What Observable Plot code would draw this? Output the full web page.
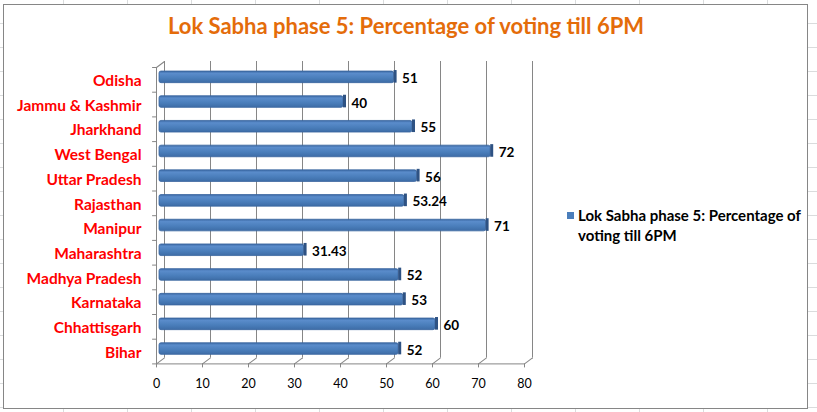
<!DOCTYPE html>
<html>
<head>
<meta charset="utf-8">
<script src="https://cdn.jsdelivr.net/npm/d3@7"></script>
<script src="https://cdn.jsdelivr.net/npm/@observablehq/plot@0.6"></script>
<style>
  html, body { margin: 0; padding: 0; background: #fff; }
  #wrap {
    position: relative; width: 817px; height: 412px; overflow: hidden;
    background-color: #fff;
    background-image:
      repeating-linear-gradient(to bottom, transparent 0 23px, #dadcdd 23px 24px, transparent 24px 20px),
      repeating-linear-gradient(to right, transparent 0 63px, #dadcdd 63px 64px);
  }
  #frame {
    position: absolute; left: 3px; top: 4px; width: 805px; height: 405px;
    background: #fff; border: 1px solid #868686; box-sizing: border-box;
  }
  #chart { position: absolute; left: 0; top: 0; }
  #title {
    position: absolute; left: 0; width: 812px; top: 12px; text-align: center;
    font-family: Lato, "Open Sans", sans-serif; font-weight: 700; font-size: 22px;
    color: #E46C0A; white-space: nowrap;
  }
  #legend {
    position: absolute; left: 566px; top: 205px; width: 245px;
    font-family: Lato, "Open Sans", sans-serif; font-weight: 700; font-size: 15px;
    color: #000; line-height: 20px; white-space: nowrap;
  }
  #legend .sw {
    position: absolute; left: 1px; top: 7px; width: 7px; height: 7px; background: #4A7EBB;
  }
  #legend .tx { margin-left: 12px; }
</style>
</head>
<body>
<div id="wrap">
  <div id="frame"></div>
  <div id="chart"></div>
  <div id="title">Lok Sabha phase 5: Percentage of voting till 6PM</div>
  <div id="legend"><div class="sw"></div><div class="tx">Lok Sabha phase 5: Percentage of<br>voting till 6PM</div></div>
</div>
<script>
// ---- data ----
const states = ["Odisha", "Jammu & Kashmir", "Jharkhand", "West Bengal", "Uttar Pradesh",
  "Rajasthan", "Manipur", "Maharashtra", "Madhya Pradesh", "Karnataka", "Chhattisgarh", "Bihar"];
const turnout = [51, 40, 55, 72, 56, 53.24, 71, 31.43, 52, 53, 60, 52];
const xTicks = [0, 10, 20, 30, 40, 50, 60, 70, 80];

const rows = states.map((s, i) => ({state: s, i, v: turnout[i]}));
const boundaries = d3.range(-0.5, 12, 1);

// 3D depth styling (pixels)
const DX = 8, DY = 6;
const depthLen = Math.hypot(DX, DY);
const depthAngle = Math.atan2(DX, DY) * 180 / Math.PI;
const line = {draw(ctx, l) { ctx.moveTo(0, 0); ctx.lineTo(0, -l); }};
const grid = "#868686";
const font = "Lato, 'Open Sans', sans-serif";

const plot = Plot.plot({
  width: 817,
  height: 412,
  marginLeft: 156,
  marginRight: 293,
  marginTop: 67,
  marginBottom: 48.6,
  style: {background: "transparent", fontFamily: font},
  x: {domain: [0, 80], label: null},
  y: {domain: [11.5, -0.5], label: null},
  marks: [
    // back wall gridlines
    Plot.ruleX(xTicks, {x: d => d, y1: 11.5, y2: -0.5, dx: DX, dy: -DY, stroke: grid, strokeWidth: 1}),
    // floor depth lines
    Plot.vector(xTicks, {x: d => d, y: 11.5, length: depthLen, rotate: depthAngle, anchor: "start", shape: line, stroke: grid, strokeWidth: 1}),
    // left wall front edge and top corner
    Plot.ruleX([0], {y1: 11.5, y2: -0.5, stroke: grid, strokeWidth: 1}),
    Plot.vector([-0.5], {x: 0, y: d => d, length: depthLen, rotate: depthAngle, anchor: "start", shape: line, stroke: grid, strokeWidth: 1}),
    // left wall category ticks
    Plot.vector(boundaries, {x: 0, y: d => d, length: 4, rotate: -90, anchor: "start", shape: line, stroke: grid, strokeWidth: 1}),
    // floor front edge
    Plot.ruleY([11.5], {x1: 0, x2: 80, stroke: grid, strokeWidth: 1}),
    // bars: face
    Plot.rect(rows, {x1: 0, x2: "v", y1: d => d.i - 0.235, y2: d => d.i + 0.235, dx: 3, dy: -2.5,
      fill: "url(#barGrad)", stroke: "#3A66A0", strokeWidth: 0.8, rx: 2}),
    // bars: end cap
    Plot.rect(rows, {x1: "v", x2: "v", y1: d => d.i - 0.235, y2: d => d.i + 0.235, dx: 3, dy: -2.5,
      insetRight: -3, insetTop: -1, fill: "#2E5283"}),
    // value labels
    Plot.text(rows, {x: "v", y: "i", text: d => String(d.v), dx: 11, dy: -1.3, textAnchor: "start",
      fontSize: 13.5, fontWeight: "bold", fill: "#000", fontFamily: font}),
    // x axis
    Plot.axisX(xTicks, {label: null, tickSize: 4, tickPadding: 11, fontSize: 12.5, stroke: grid, fill: "#000", tickFormat: d => String(d), fontFamily: font}),
    // category axis
    Plot.axisY(d3.range(12), {label: null, x: 0, tickSize: 0, tickPadding: 15, tickFormat: i => states[i], fontSize: 15.5,
      fontWeight: "bold", fill: "#FF0000", dy: 1.2, fontFamily: font})
  ]
});

// gradient for bar faces
const svgNS = "http://www.w3.org/2000/svg";
const defs = document.createElementNS(svgNS, "defs");
defs.innerHTML = `<linearGradient id="barGrad" x1="0" y1="0" x2="0" y2="1">
  <stop offset="0" stop-color="#3B68A3"/>
  <stop offset="0.2" stop-color="#5A8CCB"/>
  <stop offset="0.6" stop-color="#4A7EBB"/>
  <stop offset="1" stop-color="#3D6CA6"/>
</linearGradient>`;
plot.insertBefore(defs, plot.firstChild);
document.getElementById("chart").appendChild(plot);
</script>
</body>
</html>
